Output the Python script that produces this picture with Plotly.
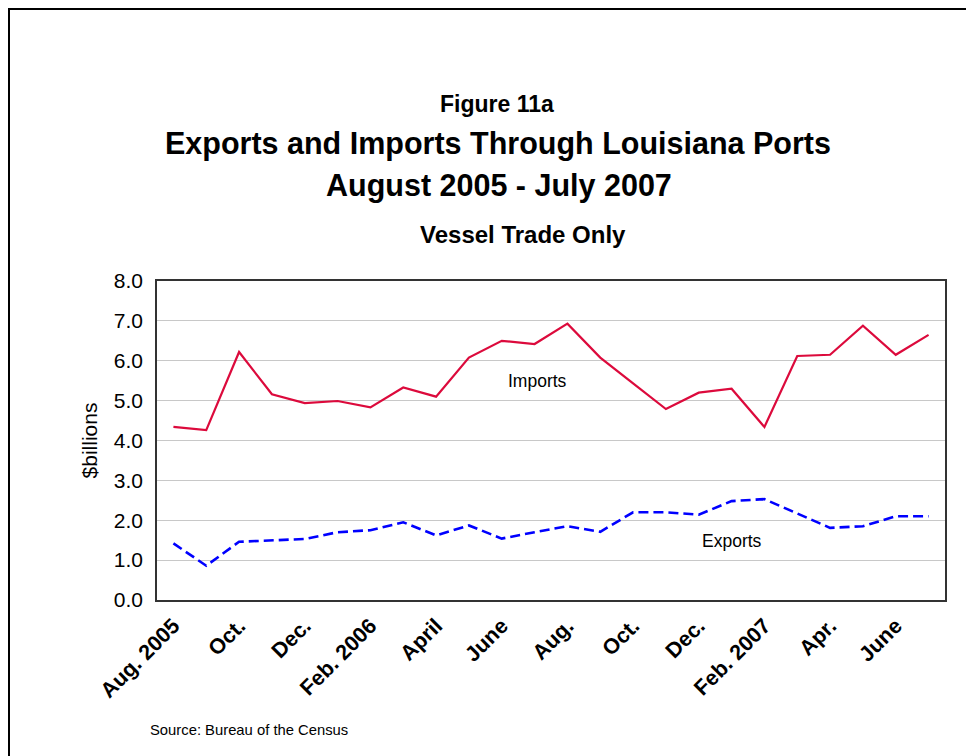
import plotly.graph_objects as go

months = ["Aug. 2005", "Sep. 2005", "Oct.", "Nov.", "Dec.", "Jan. 2006", "Feb. 2006", "Mar.",
          "April", "May", "June", "July", "Aug.", "Sep.", "Oct.", "Nov.", "Dec.", "Jan. 2007",
          "Feb. 2007", "Mar.", "Apr.", "May", "June", "July"]
imports = [4.34, 4.26, 6.22, 5.16, 4.94, 4.99, 4.83, 5.33, 5.10, 6.08, 6.50, 6.42,
           6.93, 6.08, 5.43, 4.79, 5.20, 5.30, 4.34, 6.12, 6.15, 6.88, 6.15, 6.65]
exports = [1.42, 0.86, 1.46, 1.50, 1.53, 1.70, 1.75, 1.95, 1.62, 1.87, 1.54, 1.70,
           1.85, 1.71, 2.20, 2.20, 2.14, 2.48, 2.53, 2.17, 1.81, 1.85, 2.10, 2.10]
tick_idx = list(range(0, 24, 2))
tick_text = [months[i] for i in tick_idx]
y_ticks = [0, 1, 2, 3, 4, 5, 6, 7, 8]

x = list(range(len(months)))

fig = go.Figure()
fig.add_trace(go.Scatter(x=x, y=imports, mode="lines", name="Imports",
                         line=dict(color="#DC0A3C", width=2.2)))
fig.add_trace(go.Scatter(x=x, y=exports, mode="lines", name="Exports",
                         line=dict(color="#0000FF", width=2.6, dash="10px,5px")))

font = "Liberation Sans, Arial, sans-serif"

W, H = 966, 748
L, R, T, B = 149, 29, 273, 156
PW, PH = W - L - R, H - T - B


def px(page_x):
    return (page_x - 8 - L) / PW


def py(page_y):
    return (H - B - (page_y - 8)) / PH


fig.update_layout(
    width=W, height=H,
    margin=dict(l=L, r=R, t=T, b=B),
    paper_bgcolor="white", plot_bgcolor="white",
    showlegend=False,
    font=dict(family=font, color="black"),
    xaxis=dict(range=[-0.5, 23.5], tickmode="array", tickvals=tick_idx, ticktext=tick_text,
               tickangle=-45, tickfont=dict(size=21.5, family=font, weight="bold"),
               ticklabelstandoff=3,
               showgrid=False, zeroline=False, showline=True, linecolor="#333", linewidth=1.5,
               mirror=True, ticks=""),
    yaxis=dict(range=[0, 8], tickmode="array", tickvals=y_ticks,
               ticktext=[f"{v:.1f}" for v in y_ticks], tickfont=dict(size=21),
               ticklabelstandoff=8,
               showgrid=True, gridcolor="#C8C8C8", gridwidth=1, zeroline=False,
               showline=True, linecolor="#333", linewidth=1.5, mirror=True, ticks="",
               title=dict(text="$billions", font=dict(size=21), standoff=10)),
)


def title_note(text, page_x, page_y, size):
    fig.add_annotation(text=text, xref="paper", yref="paper", x=px(page_x), y=py(page_y),
                       xanchor="center", yanchor="middle", showarrow=False, font=dict(size=size))


title_note("<b>Figure 11a</b>", 497, 104, 23)
title_note("<b>Exports and Imports Through Louisiana Ports</b>", 498, 143, 30.5)
title_note("<b>August 2005 - July 2007</b>", 499, 185, 30.5)
title_note("<b>Vessel Trade Only</b>", 523, 235, 24)

fig.add_annotation(text="Imports", x=11.1, y=5.5, showarrow=False, font=dict(size=17.5))
fig.add_annotation(text="Exports", x=17.0, y=1.47, showarrow=False, font=dict(size=17.5))
fig.add_annotation(text="Source: Bureau of the Census", xref="paper", yref="paper",
                   x=px(148), y=py(730), xanchor="left", yanchor="middle", showarrow=False,
                   font=dict(size=14.8))

fig.add_shape(type="rect", xref="paper", yref="paper",
              x0=px(9), y0=-1.0, x1=1.3, y1=py(9),
              line=dict(color="black", width=2), fillcolor="rgba(0,0,0,0)", layer="below")

fig.write_html("out.html")
